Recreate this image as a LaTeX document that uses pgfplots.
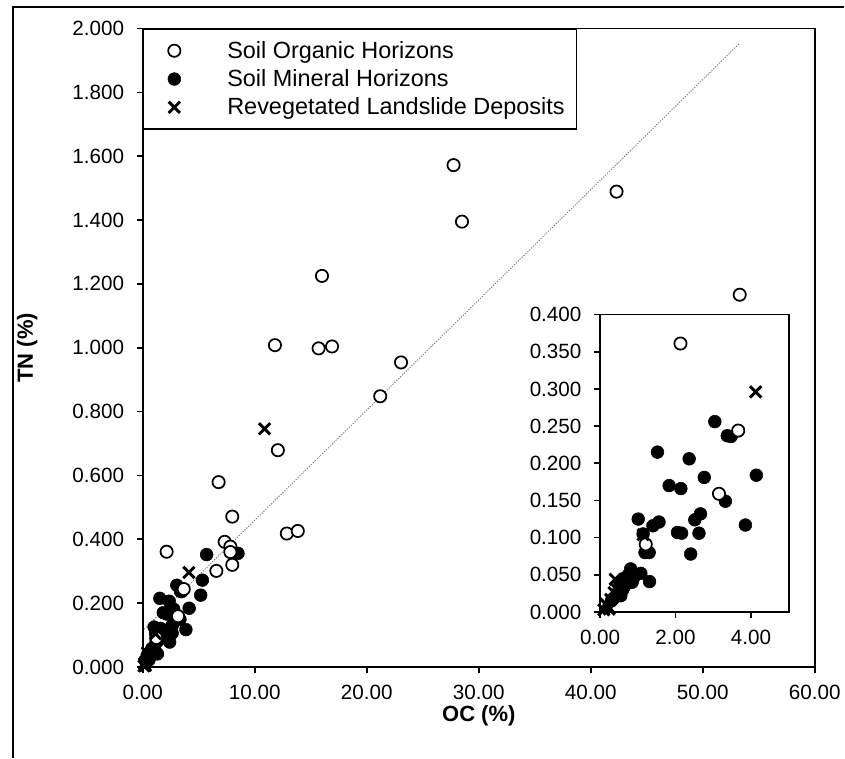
\documentclass[border=0pt]{standalone}
\usepackage{fontspec}
\setmainfont{Liberation Sans}
\usepackage{pgfplots}
\usepackage{pgfplotstable}
\pgfplotsset{compat=1.18}

\pgfplotstableread{
x y
27.75 1.572
42.3 1.489
28.5 1.395
16.0 1.225
11.8 1.008
15.7 0.998
16.9 1.004
23.06 0.954
21.2 0.848
12.06 0.679
53.3 1.166
6.77 0.579
7.99 0.471
12.86 0.418
13.84 0.426
7.31 0.392
7.82 0.377
7.82 0.360
2.13 0.361
7.99 0.320
6.57 0.301
3.66 0.244
3.15 0.159
1.21 0.091
}\organic

\pgfplotstableread{
x y
8.5 0.356
5.7 0.352
5.32 0.272
5.17 0.225
3.04 0.256
3.37 0.237
3.47 0.236
1.52 0.215
2.36 0.206
4.14 0.184
2.76 0.181
1.83 0.170
2.14 0.166
3.32 0.149
2.66 0.132
2.51 0.124
1.01 0.125
1.56 0.121
1.40 0.116
3.85 0.117
2.05 0.107
2.16 0.106
2.62 0.106
1.14 0.105
1.19 0.080
1.30 0.080
2.40 0.078
1.31 0.041
0.81 0.058
1.08 0.052
0.90 0.047
0.75 0.050
0.70 0.042
0.65 0.035
0.60 0.030
0.55 0.038
0.50 0.028
0.45 0.025
0.40 0.020
0.35 0.018
0.30 0.015
0.62 0.045
0.85 0.040
0.55 0.022
}\mineral

\pgfplotstableread{
x y
10.87 0.746
4.12 0.296
1.14 0.104
0.10 0.003
0.15 0.011
0.24 0.004
0.28 0.017
0.37 0.026
0.50 0.034
0.40 0.044
0.20 0.008
0.45 0.030
}\landslide

\pgfplotsset{
  orgstyle/.style={only marks, mark=*, mark size=4.6pt, mark options={fill=white, draw=black, line width=1.3pt}},
  minstyle/.style={only marks, mark=*, mark size=4.8pt, mark options={fill=black, draw=black, line width=0.4pt}},
  lsstyle/.style={only marks, mark=x, mark size=6pt, mark options={draw=black, line width=2.2pt}},
  legimg/.style={legend image code/.code={\path (0pt,0pt) (31pt,0pt); \draw[##1] plot coordinates {(15.5pt,0pt)};}},
  common/.style={
    scale only axis,
    anchor=south west,
    tick align=outside,
    xtick pos=bottom, ytick pos=left,
    major tick length=4.5pt,
    axis line style={line width=1.4pt},
    every tick/.style={black, line width=1.2pt},
    /pgf/number format/assume math mode=true,
    tick label style={font=\fontsize{15.5}{18}\selectfont},
    yticklabel style={xshift=-6pt},
    xticklabel style={yshift=-5.5pt},
  },
}

\begin{document}
\begin{tikzpicture}
\path (0pt,0pt) rectangle (633.75pt,569.25pt);
\draw[line width=0.8pt] (9.75pt,0pt) -- (9.75pt,564pt) -- (633.75pt,564pt);

\begin{axis}[
  common,
  at={(107.25pt,68.25pt)},
  width=504.75pt, height=479.6pt,
  xmin=0, xmax=60, ymin=0, ymax=2,
  xtick={0,10,20,30,40,50,60},
  ytick={0,0.2,0.4,0.6,0.8,1.0,1.2,1.4,1.6,1.8,2.0},
  xticklabel style={/pgf/number format/.cd, fixed, fixed zerofill, precision=2},
  yticklabel style={/pgf/number format/.cd, fixed, fixed zerofill, precision=3},
  xlabel={OC (\%)}, ylabel={TN (\%)},
  every axis x label/.style={at={(axis description cs:0.5,-0.077)}, anchor=center, font=\fontsize{16.5}{20}\selectfont\bfseries},
  every axis y label/.style={at={(axis description cs:-0.172,0.5)}, anchor=center, rotate=90, font=\fontsize{16.5}{20}\selectfont\bfseries},
  legend style={at={(0,1)}, anchor=north west, draw=black, line width=1.2pt, fill=white,
    inner xsep=7pt, inner ysep=7pt, row sep=3pt, column sep=21.7pt,
    font=\fontsize{17.6}{21}\selectfont},
  legend cell align=left,
]
\addlegendimage{orgstyle, legimg}
\addlegendentry{Soil Organic Horizons}
\addlegendimage{minstyle, legimg}
\addlegendentry{Soil Mineral Horizons}
\addlegendimage{lsstyle, legimg}
\addlegendentry{Revegetated Landslide Deposits}
\addplot[forget plot, color=gray, line width=0.7pt, dash pattern=on 1pt off 1pt] coordinates {(0.1,0.118) (53.3,1.954)};
\addplot[forget plot, minstyle] table[x=x,y=y] {\mineral};
\addplot[forget plot, orgstyle] table[x=x,y=y] {\organic};
\addplot[forget plot, lsstyle] table[x=x,y=y] {\landslide};
\end{axis}

\begin{axis}[
  common,
  at={(450.75pt,109.5pt)},
  width=141.75pt, height=223.5pt,
  xmin=0, xmax=5, ymin=0, ymax=0.4,
  xtick={0,2,4},
  ytick={0,0.05,0.1,0.15,0.2,0.25,0.3,0.35,0.4},
  xticklabel style={/pgf/number format/.cd, fixed, fixed zerofill, precision=2},
  yticklabel style={/pgf/number format/.cd, fixed, fixed zerofill, precision=3},
  axis background/.style={fill=white},
]
\addplot[minstyle] table[x=x,y=y] {\mineral};
\addplot[orgstyle] table[x=x,y=y] {\organic};
\addplot[lsstyle] table[x=x,y=y] {\landslide};
\end{axis}
\end{tikzpicture}
\end{document}
